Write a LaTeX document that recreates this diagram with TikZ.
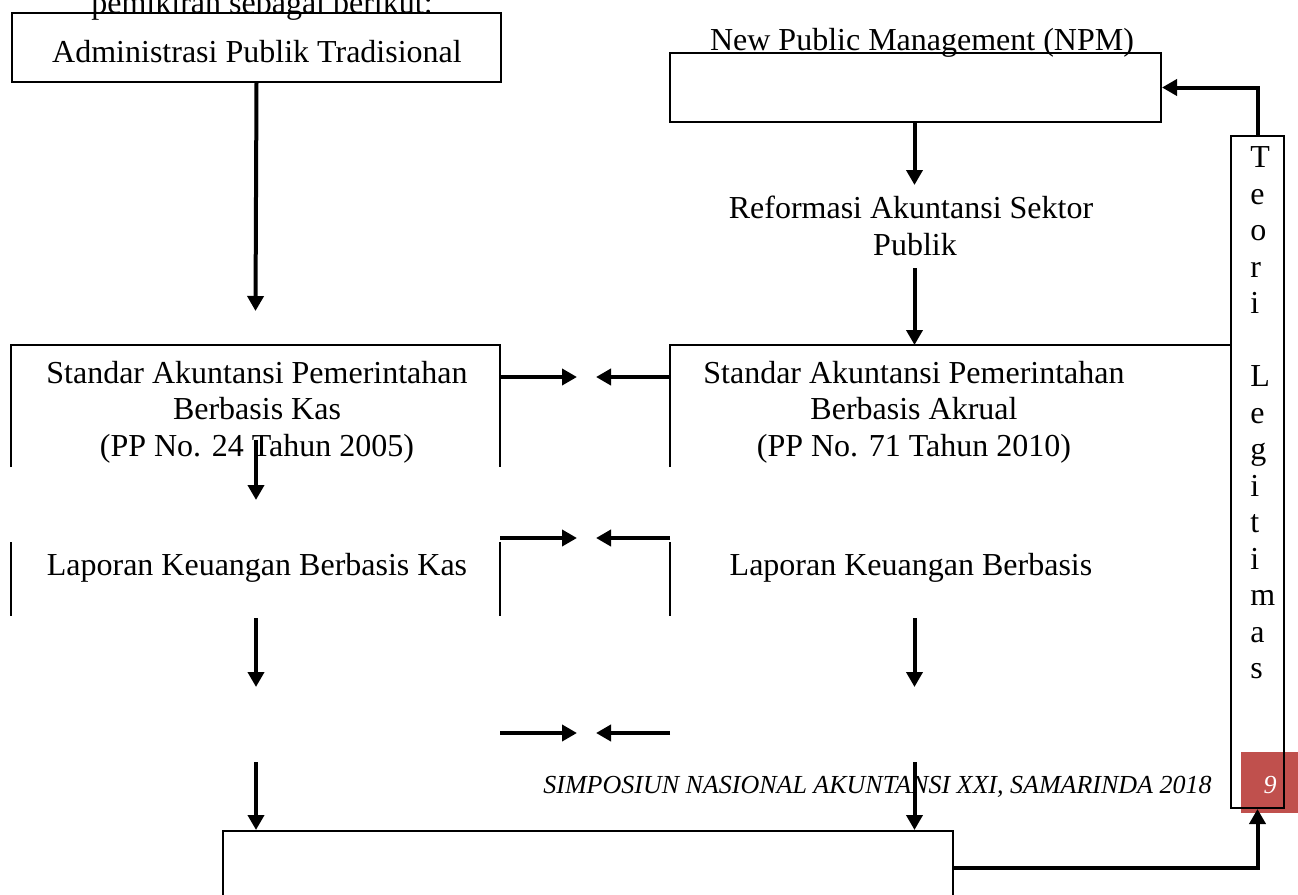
\documentclass[tikz,border=0pt]{standalone}
\usepackage{fontspec}
\setmainfont{Liberation Serif}
\usetikzlibrary{arrows.meta}
\definecolor{accred}{HTML}{C0504D}
\tikzset{
  lbl/.style={inner sep=0pt, anchor=base, font=\fontsize{16}{18.25}\selectfont},
  boxed/.style={draw, line width=1pt, inner sep=0pt, anchor=north west},
  conn/.style={line width=2pt, -{Triangle[length=7.5pt,width=8pt]}},
  side/.style={line width=1pt},
  foot/.style={inner sep=0pt, anchor=base, font=\fontsize{13}{15}\selectfont\itshape},
  letter/.style={inner sep=0pt, anchor=base west, font=\fontsize{16}{18.25}\selectfont},
}
\begin{document}
\begin{tikzpicture}[x=0.5pt,y=-0.5pt]
\useasboundingbox (0,0) rectangle (1298,895);

% ---------- top row ----------
\node[boxed, minimum width=244.5pt, minimum height=34.5pt] (A) at (11,12) {};
\node[lbl] (pem) at (262,13) {pemikiran sebagai berikut:};
\node[lbl] (adm) at (257,62) {Administrasi Publik Tradisional};

\node[boxed, minimum width=245.5pt, minimum height=34.5pt] (N) at (669,52) {};
\node[lbl] (npm) at (922,50) {New Public Management (NPM)};

% ---------- Teori Legitimasi column ----------
\fill[accred] (1241,752) rectangle (1300,813);
\node[boxed, minimum width=26.5pt, minimum height=336pt] (T) at (1230,135) {};
\foreach \ch [count=\i from 0] in {T,e,o,r,i,{},L,e,g,i,t,i,m,a,s}{
  \node[letter] (tl\i) at (1250,167.5+36.5*\i) {\ch};
}

% ---------- Reformasi ----------
\node[lbl] (ref1) at (911,218) {Reformasi Akuntansi Sektor};
\node[lbl] (ref2) at (915,255) {Publik};

% ---------- middle row: Standar ----------
\draw[side] (11,467) -- (11,345) -- (500,345) -- (500,467);
\draw[side] (670,467) -- (670,345) -- (1230,345);
\node[lbl] (sk1) at (257,383) {Standar Akuntansi Pemerintahan};
\node[lbl] (sk2) at (257,419.5) {Berbasis Kas};
\node[lbl] (sk3) at (257,456) {(PP No. 24 Tahun 2005)};
\node[lbl] (sa1) at (914,383) {Standar Akuntansi Pemerintahan};
\node[lbl] (sa2) at (914,419.5) {Berbasis Akrual};
\node[lbl] (sa3) at (914,456) {(PP No. 71 Tahun 2010)};

% ---------- row 3: Laporan ----------
\draw[side] (11,542) -- (11,616);
\draw[side] (500,542) -- (500,616);
\draw[side] (670,542) -- (670,616);
\node[lbl] (lk) at (257,575) {Laporan Keuangan Berbasis Kas};
\node[lbl] (la) at (911,575) {Laporan Keuangan Berbasis};

% ---------- bottom box ----------
\node[boxed, minimum width=365pt, minimum height=37pt] (B) at (222,830) {};

% ---------- footer ----------
\node[foot, anchor=base east] (ft) at (1212,793) {SIMPOSIUN NASIONAL AKUNTANSI XXI, SAMARINDA 2018};
\node[foot, text=white] (pg) at (1270,793) {9};

% ---------- coordinates ----------
\coordinate (a1e) at (255.5,311);
\coordinate (b1e) at (914.5,185);
\coordinate (b2s) at (914.5,268);
\coordinate (b2e) at (914.5,345);
\coordinate (a2s) at (256,440);
\coordinate (a2e) at (256,500);
\coordinate (a3s) at (256,618);
\coordinate (a3e) at (256,687);
\coordinate (b3s) at (914.5,618);
\coordinate (b3e) at (914.5,687);
\coordinate (a4s) at (256,762);
\coordinate (b4s) at (914.5,762);
\foreach \r/\y in {1/377,2/538,3/733}{
  \coordinate (hl\r s) at (500,\y);
  \coordinate (hl\r e) at (577,\y);
  \coordinate (hr\r s) at (670,\y);
  \coordinate (hr\r e) at (596,\y);
}

% ---------- connectors ----------
\draw[conn] (A.south) -- (a1e);
\draw[conn] (N.south -| b1e) -- (b1e);
\draw[conn] (b2s) -- (b2e);
\draw[conn] (a2s) -- (a2e);
\draw[conn] (a3s) -- (a3e);
\draw[conn] (b3s) -- (b3e);
\draw[conn] (a4s) -- (B.north -| a4s);
\draw[conn] (b4s) -- (B.north -| b4s);
\foreach \r in {1,2,3}{
  \draw[conn] (hl\r s) -- (hl\r e);
  \draw[conn] (hr\r s) -- (hr\r e);
}
\draw[conn] (T.north) |- (N.east);
\draw[conn] (B.east) -| (T.south);
\end{tikzpicture}
\end{document}
